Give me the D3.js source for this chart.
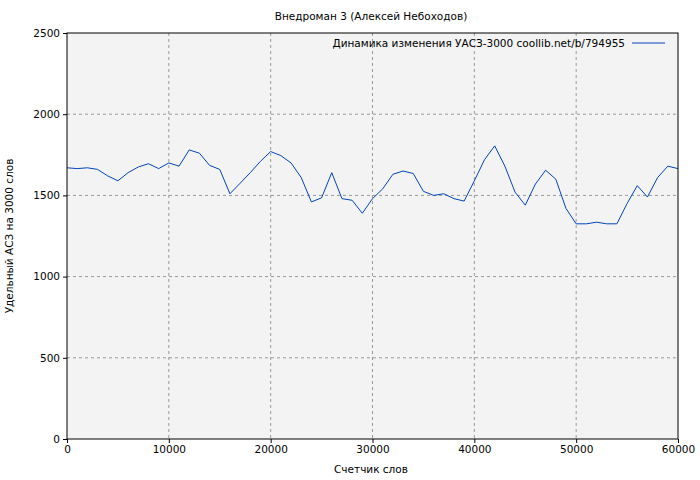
<!DOCTYPE html>
<html>
<head>
<meta charset="UTF-8">
<script src="https://d3js.org/d3.v7.min.js"></script>
<style>body{margin:0;background:#fff}</style>
</head>
<body>
<div id="chart"></div>
<script>
const words = d3.range(0, 61000, 1000);
const uasz = [1670,1665,1670,1660,1620,1590,1640,1675,1695,1665,1700,1680,1780,1760,1685,1660,1510,1575,1640,1710,1770,1745,1700,1610,1460,1485,1640,1480,1470,1390,1480,1540,1630,1650,1635,1525,1500,1510,1480,1465,1590,1720,1805,1680,1520,1440,1570,1655,1600,1420,1325,1325,1335,1325,1325,1450,1560,1490,1610,1680,1665];
const xTicks = [0,10000,20000,30000,40000,50000,60000];
const yTicks = [0,500,1000,1500,2000,2500];

const width = 700, height = 480;
const m = {top: 33, left: 67, right: 22, bottom: 41};
const font = "DejaVu Sans";
const fs = "10.5px";

const svg = d3.select("#chart").append("svg").attr("width", width).attr("height", height)
  .style("font-family", font);
svg.append("rect").attr("width", width).attr("height", height).attr("fill", "#fff");

const x = d3.scaleLinear().domain([0, 60000]).range([m.left, width - m.right]);
const y = d3.scaleLinear().domain([0, 2500]).range([height - m.bottom, m.top]);

svg.append("rect").attr("x", m.left).attr("y", m.top)
  .attr("width", x(60000) - m.left).attr("height", y(0) - m.top).attr("fill", "#f3f3f3");

// сетка
svg.append("g").selectAll("line").data(xTicks.slice(1, -1)).join("line")
  .attr("x1", d => x(d)).attr("x2", d => x(d)).attr("y1", m.top).attr("y2", y(0))
  .attr("stroke", "#999").attr("stroke-dasharray", "3,3");
svg.append("g").selectAll("line").data(yTicks.slice(1, -1)).join("line")
  .attr("x1", m.left).attr("x2", x(60000)).attr("y1", d => y(d)).attr("y2", d => y(d))
  .attr("stroke", "#999").attr("stroke-dasharray", "3,3");

const line = d3.line().x((d, i) => x(words[i])).y(d => y(d));
svg.append("path").attr("d", line(uasz)).attr("fill", "none")
  .attr("stroke", "#0044bb").attr("stroke-width", 1);

svg.append("rect").attr("x", m.left).attr("y", m.top)
  .attr("width", x(60000) - m.left).attr("height", y(0) - m.top)
  .attr("fill", "none").attr("stroke", "#000");

const gx = svg.append("g").attr("transform", `translate(0,${y(0)})`)
  .call(d3.axisBottom(x).tickValues(xTicks).tickSize(4).tickFormat(d3.format("d")));
const gy = svg.append("g").attr("transform", `translate(${m.left},0)`)
  .call(d3.axisLeft(y).tickValues(yTicks).tickSize(4).tickFormat(d3.format("d")));
[gx, gy].forEach(g => {
  g.select(".domain").remove();
  g.selectAll("text").style("font-family", font).style("font-size", fs).attr("fill", "#000");
});

svg.append("text").attr("x", 371).attr("y", 20).attr("text-anchor", "middle")
  .style("font-size", fs).text("Внедроман 3 (Алексей Небоходов)");
svg.append("text").attr("x", 371).attr("y", 473).attr("text-anchor", "middle")
  .style("font-size", fs).text("Счетчик слов");
svg.append("text").attr("transform", "translate(13,236) rotate(-90)").attr("text-anchor", "middle")
  .style("font-size", fs).text("Удельный АСЗ на 3000 слов");

svg.append("text").attr("x", 625).attr("y", 47).attr("text-anchor", "end")
  .style("font-size", fs).text("Динамика изменения УАСЗ-3000 coollib.net/b/794955");
svg.append("line").attr("x1", 632).attr("x2", 665).attr("y1", 43).attr("y2", 43)
  .attr("stroke", "#0044bb");
</script>
</body>
</html>
